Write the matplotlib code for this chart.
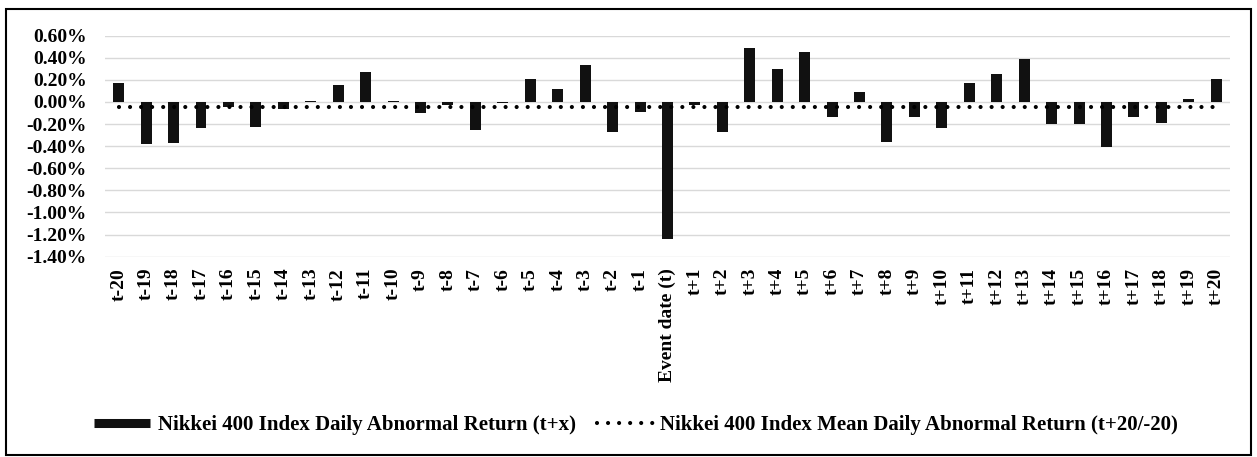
import numpy as np
import matplotlib
matplotlib.use("Agg")
import matplotlib.pyplot as plt
from matplotlib.lines import Line2D
from matplotlib.patches import Rectangle
from matplotlib.ticker import FuncFormatter

# %%
# data (values in %)
labels = ([f"t-{i}" for i in range(20, 0, -1)] + ["Event date (t)"]
          + [f"t+{i}" for i in range(1, 21)])

daily_ar = [0.17, -0.38, -0.37, -0.24, -0.05, -0.23, -0.06, 0.01, 0.15, 0.27,
            0.01, -0.10, -0.03, -0.25, -0.01, 0.21, 0.12, 0.33, -0.27, -0.09,
            -1.24,
            -0.03, -0.27, 0.49, 0.30, 0.45, -0.14, 0.09, -0.36, -0.14, -0.24,
            0.17, 0.25, 0.39, -0.20, -0.20, -0.41, -0.14, -0.19, 0.03, 0.21]

mean_ar = -0.05

yticks = [0.6, 0.4, 0.2, 0.0, -0.2, -0.4, -0.6, -0.8, -1.0, -1.2, -1.4]

# %%
plt.rcParams['font.family'] = ['Liberation Serif', 'DejaVu Serif']
plt.rcParams['font.weight'] = 'bold'

fig = plt.figure(figsize=(12.57, 4.57), dpi=100)
ax = fig.add_axes([0.0835, 0.4383, 0.895, 0.4839])

dot_style = (0, (0.001, 2.65))

x = np.arange(len(labels))
ax.bar(x, daily_ar, width=0.4, color='#111111', zorder=2)
ax.plot(x, [mean_ar] * len(x), color='black', linewidth=3.0,
        linestyle=dot_style, dash_capstyle='round', zorder=3)

ax.set_xlim(-0.5, len(labels) - 0.5)
ax.set_ylim(-1.4, 0.6)
ax.set_yticks(yticks)
ax.yaxis.set_major_formatter(FuncFormatter(lambda v, p: f"{v:.2f}%"))
ax.set_xticks(x)
ax.set_xticklabels(labels, rotation=90)
ax.tick_params(axis='y', length=0, pad=13, labelsize=14)
ax.tick_params(axis='x', length=0, pad=8, labelsize=14)
for lab in ax.get_xticklabels() + ax.get_yticklabels():
    lab.set_fontweight('bold')

ax.grid(True, axis='y', color='#d9d9d9', linewidth=1, zorder=0)
ax.set_axisbelow(True)
for s in ax.spines.values():
    s.set_visible(False)

# legend
h_bar = Line2D([0], [0], color='#111111', linewidth=6.5, solid_capstyle='butt')
h_mean = Line2D([0], [0], color='black', linewidth=3.0,
                linestyle=dot_style, dash_capstyle='round')
fig.legend([h_bar, h_mean],
           ['Nikkei 400 Index Daily Abnormal Return (t+x)',
            'Nikkei 400 Index Mean Daily Abnormal Return (t+20/-20)'],
           loc='center', bbox_to_anchor=(0.506, 0.07), ncol=2, frameon=False,
           handlelength=2.7, handletextpad=0.35, columnspacing=1.0,
           prop={'size': 15, 'weight': 'bold'})

# outer border
fig.patches.append(Rectangle((0.005, 0.004), 0.99, 0.977, transform=fig.transFigure,
                             fill=False, edgecolor='black', linewidth=1.5))

fig.savefig('out.png', dpi=100)
